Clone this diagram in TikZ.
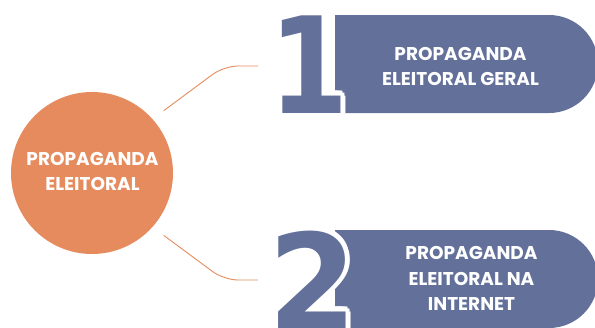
\documentclass[tikz,border=0pt]{standalone}
\usepackage{fontspec}
\setmainfont{Poppins}[BoldFont={Poppins Bold}]
\newfontfamily\digitfont{DejaVu Sans Bold}
\usetikzlibrary{shapes.misc,calc}
\definecolor{bluebox}{HTML}{62709A}
\definecolor{orng}{HTML}{E58B5E}
\newcommand{\digone}{\scalebox{0.85}[1]{1}}
\newcommand{\digtwo}{\scalebox{0.95}[1]{2}}
\begin{document}
\begin{tikzpicture}[x=1pt,y=-1pt,
  lbl/.style={text=white,font=\bfseries\fontsize{18.5}{25.5}\selectfont,align=center},
  bignum/.style={font=\digitfont\fontsize{134}{134}\selectfont,inner sep=0pt,anchor=base},
  conn/.style={draw=orng,line width=0.9pt,rounded corners=14pt},
  box/.style={fill=bluebox,rounded rectangle,rounded rectangle west arc=none,
    minimum width=263pt,minimum height=98pt,inner sep=0pt}]
\useasboundingbox (0,0) rectangle (595,327);
\clip (0,0) rectangle (595,327);
% central circle
\node[circle,fill=orng,minimum size=162pt,inner sep=0pt] (c) at (92,173) {};
\node[lbl] (ct) at (92.5,171.5) {PROPAGANDA\\ELEITORAL};
% boxes
\node[box] (b1) at (466.5,64) {};
\node[box] (b2) at (466.5,279) {};
% digits with white outline
\foreach \a in {0,30,...,330}{
  \node[bignum,text=white] at ($(309,113)+(\a:5)$) {\digone};
  \node[bignum,text=white] at ($(312.5,330)+(\a:5)$) {\digtwo};
}
\node[bignum,text=bluebox] (n1) at (309,113) {\digone};
\node[bignum,text=bluebox] (n2) at (312.5,330) {\digtwo};
% box texts
\node[lbl] (t1) at (460.5,66.5) {PROPAGANDA\\ELEITORAL GERAL};
\node[lbl] (t2) at (471.5,278.5) {PROPAGANDA\\ELEITORAL NA\\INTERNET};
% connectors
\coordinate (s1) at ($(c.center)+(-41:95)$);
\coordinate (s2) at ($(c.center)+(41:95)$);
\coordinate (e1) at (258,66);
\coordinate (e2) at (258,280);
\draw[conn] (s1) -- (224,66) -- (e1);
\draw[conn] (s2) -- (224,280) -- (e2);
\end{tikzpicture}
\end{document}
